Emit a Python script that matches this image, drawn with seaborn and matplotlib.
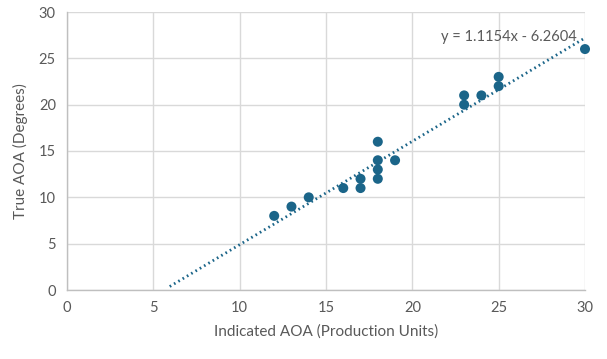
import matplotlib
matplotlib.use("Agg")
import matplotlib.pyplot as plt
import seaborn as sns
import numpy as np
import pandas as pd

# Data
indicated_aoa = [12, 13, 14, 16, 17, 17, 18, 18, 18, 18, 19, 23, 23, 24, 25, 25, 30]
true_aoa = [8, 9, 10, 11, 11, 12, 12, 13, 14, 16, 14, 20, 21, 21, 22, 23, 26]
trend_slope = 1.1154
trend_intercept = -6.2604
trend_x_range = [5.95, 30]
x_ticks = [0, 5, 10, 15, 20, 25, 30]
y_ticks = [0, 5, 10, 15, 20, 25, 30]

df = pd.DataFrame({"x": indicated_aoa, "y": true_aoa})

sns.set_theme(style="white")
plt.rcParams["font.family"] = ["Lato", "DejaVu Sans"]

color = "#1B6589"
text_color = "#595959"
grid_color = "#D9D9D9"

fig = plt.figure(figsize=(6.07, 3.59), dpi=100)
ax = fig.add_axes([67 / 607, 1 - 290 / 359, (585 - 67) / 607, (290 - 12) / 359])

tx = np.array(trend_x_range)
ty = trend_slope * tx + trend_intercept
sns.lineplot(x=tx, y=ty, ax=ax, color=color, linewidth=2.0,
             linestyle=(0, (0.6, 1.2)), zorder=2)

sns.scatterplot(data=df, x="x", y="y", ax=ax, color=color, s=52,
                edgecolor="none", zorder=3, clip_on=False)

ax.set_xlim(0, 30)
ax.set_ylim(0, 30)
ax.set_xticks(x_ticks)
ax.set_yticks(y_ticks)
ax.grid(True, color=grid_color, linewidth=1.0, zorder=0)
ax.set_axisbelow(True)
for s in ["top", "right"]:
    ax.spines[s].set_visible(False)
for s in ["left", "bottom"]:
    ax.spines[s].set_color("#BFBFBF")
    ax.spines[s].set_linewidth(1.0)
ax.tick_params(axis="both", length=0, colors=text_color, labelsize=10.5, pad=8)

ax.set_xlabel("Indicated AOA (Production Units)", color=text_color, fontsize=11, labelpad=7)
ax.set_ylabel("True AOA (Degrees)", color=text_color, fontsize=11, labelpad=8)

sign = "-" if trend_intercept < 0 else "+"
ax.text(21.65, 27.25, f"y = {trend_slope:.4f}x {sign} {abs(trend_intercept):.4f}",
        color=text_color, fontsize=10.5, va="center", ha="left")

fig.savefig("out.png", dpi=100)
